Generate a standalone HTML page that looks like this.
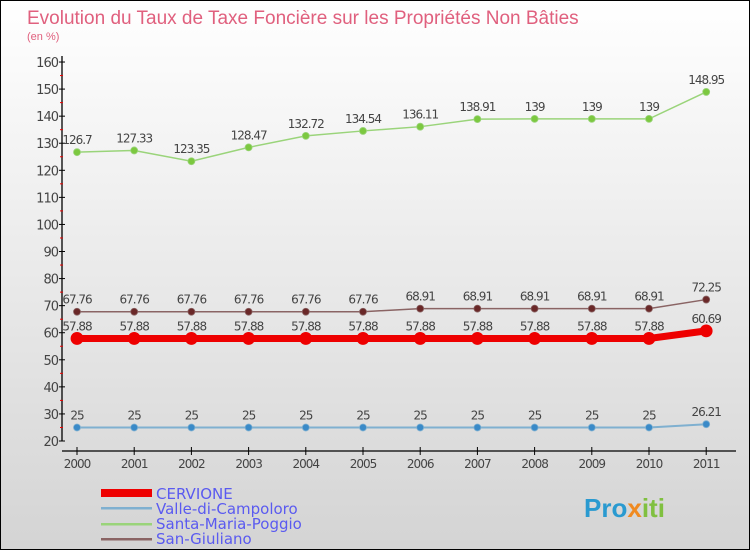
<!DOCTYPE html>
<html><head><meta charset="utf-8"><style>
body{margin:0;}
#c{position:relative;width:748px;height:548px;border:1px solid #000;background:linear-gradient(#ffffff,#d4d4d4);font-family:"DejaVu Sans","Liberation Sans",sans-serif;overflow:hidden}
</style></head><body>
<div id="c">
<svg id="s" width="748" height="548" xmlns="http://www.w3.org/2000/svg">
<text x="26" y="23" font-size="19" fill="#e0607e" font-family="Liberation Sans,sans-serif">Evolution du Taux de Taxe Foncière sur les Propriétés Non Bâties</text>
<text x="26" y="39" font-size="11" fill="#e0607e" font-family="Liberation Sans,sans-serif">(en %)</text>
<g id="axes"></g><g id="series"></g>
<g>
<rect x="100" y="488" width="51" height="8" fill="#ee0000"/>
<text x="155" y="498" font-size="15" fill="#5a5af0">CERVIONE</text>
<rect x="100" y="506" width="51" height="2.5" fill="#7fb0d0"/>
<text x="155" y="513" font-size="15" fill="#5a5af0">Valle-di-Campoloro</text>
<rect x="100" y="522" width="51" height="2.5" fill="#9ad47a"/>
<text x="155" y="528" font-size="15" fill="#5a5af0">Santa-Maria-Poggio</text>
<rect x="100" y="537" width="51" height="2.5" fill="#8a6464"/>
<text x="155" y="543" font-size="15" fill="#5a5af0">San-Giuliano</text>
</g>
<text x="583" y="516" font-size="26" font-weight="bold" fill="#2a9ad0" font-family="Liberation Sans,sans-serif">Pro<tspan fill="#f08a20">x</tspan><tspan fill="#80c040">iti</tspan></text>
</svg></div>
<script>
const years=["2000","2001","2002","2003","2004","2005","2006","2007","2008","2009","2010","2011"];
const yTicks=[20,30,40,50,60,70,80,90,100,110,120,130,140,150,160];
const cervione=[57.88,57.88,57.88,57.88,57.88,57.88,57.88,57.88,57.88,57.88,57.88,60.69];
const valle=[25,25,25,25,25,25,25,25,25,25,25,26.21];
const santa=[126.7,127.33,123.35,128.47,132.72,134.54,136.11,138.91,139,139,139,148.95];
const sanG=[67.76,67.76,67.76,67.76,67.76,67.76,68.91,68.91,68.91,68.91,68.91,72.25];
const NS="http://www.w3.org/2000/svg";
const X=i=>76+i*57.2, Y=v=>440-(v-20)*2.707;
function mk(t,a,p){const e=document.createElementNS(NS,t);for(const k in a)e.setAttribute(k,a[k]);p.appendChild(e);return e;}
const ax=document.getElementById('axes');
let l=mk('line',{x1:61,y1:55,x2:61,y2:440,stroke:'#000','stroke-width':1.3},ax);


l=mk('line',{x1:61,y1:450,x2:735,y2:450,stroke:'#000','stroke-width':1.3},ax);


yTicks.forEach((v,i)=>{
 mk('line',{x1:58,y1:Y(v),x2:64,y2:Y(v),stroke:'#000'},ax);
 if(i<yTicks.length-1) mk('line',{x1:59,y1:Y(v+5),x2:62,y2:Y(v+5),stroke:'#e00'},ax);
 const t=mk('text',{x:57,y:Y(v)+5,'font-size':13,fill:'#444','text-anchor':'end','letter-spacing':'-1'},ax);t.textContent=v;
 
 
});
years.forEach((y,i)=>{
 mk('line',{x1:X(i),y1:446,x2:X(i),y2:454,stroke:'#000'},ax);
 const t=mk('text',{x:X(i),y:467,'font-size':12,fill:'#444','text-anchor':'middle','letter-spacing':'-1'},ax);t.textContent=y;
 
 
});
const sg=document.getElementById('series');
function series(d,name,col,dot,w,r,lab){
 const g=mk('g',{},sg);
 
 
 mk('polyline',{points:d.map((v,i)=>X(i)+','+Y(v)).join(' '),fill:'none',stroke:col,'stroke-width':w},g);
 d.forEach((v,i)=>{
  const c=mk('circle',{cx:X(i),cy:Y(v),r:r,fill:dot,stroke:col,'stroke-width':0.8},g);
  
  
  const t=mk('text',{x:X(i),y:Y(v)-8,'font-size':12,fill:'#444','text-anchor':'middle','letter-spacing':'-1'},g);t.textContent=lab?lab(v):v;
  
  
 });
}
series(valle,'series-valle','#7fb0d0','#3a8ac8',2,3.5);
series(santa,'series-santa','#9ad47a','#7cc840',1.5,3.5);
series(sanG,'series-san-giuliano','#8a6464','#6a2828',1.5,3.5);
series(cervione,'series-cervione','#ee0000','#ee0000',7,6);
</script>
</body></html>
